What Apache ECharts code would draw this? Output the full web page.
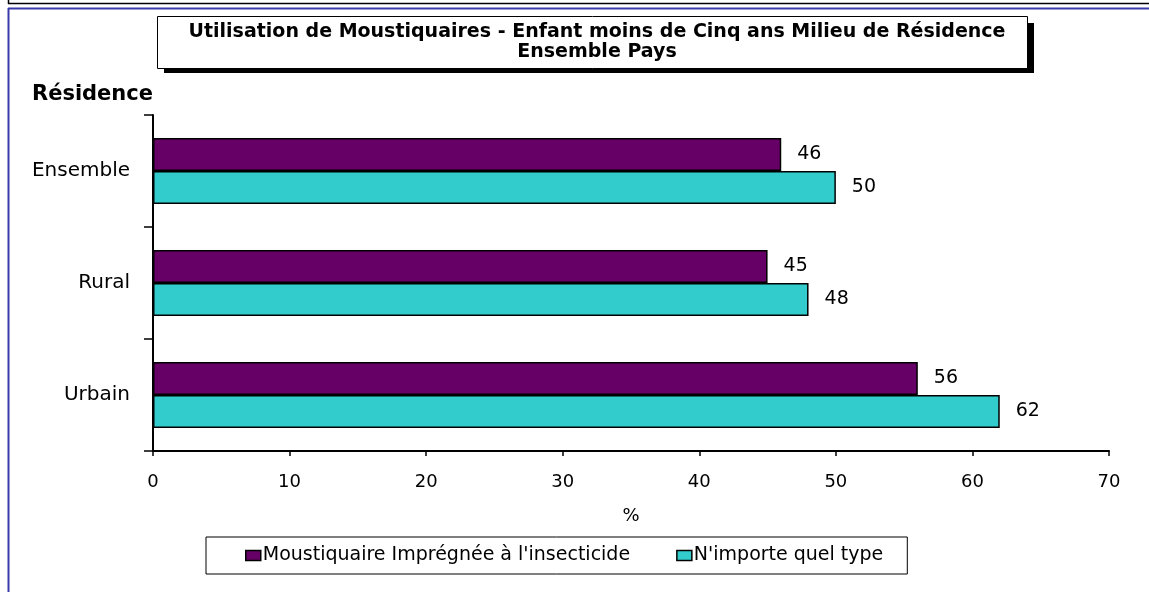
<!DOCTYPE html>
<html>
<head>
<meta charset="utf-8">
<script src="https://cdn.jsdelivr.net/npm/echarts@6/dist/echarts.min.js"></script>
<style>
  html, body { margin: 0; padding: 0; background: #fff; }
  #chart { width: 1149px; height: 592px; }
</style>
</head>
<body>
<div id="chart"></div>
<script>
const categories = ['Ensemble', 'Rural', 'Urbain']
const seriesNames = ["Moustiquaire Imprégnée à l'insecticide", "N'importe quel type"]
const impregnee = [46, 45, 56]
const nimporte = [50, 48, 62]
const xTicks = [0, 70, 10] // min, max, interval

const font = '"DejaVu Sans", Arial, sans-serif'

const chart = echarts.init(document.getElementById('chart'))

const barLabel = {
  show: true,
  position: 'right',
  distance: 16,
  color: '#000',
  fontSize: 19,
  fontFamily: font
}

const option = {
  animation: false,
  backgroundColor: '#fff',
  title: {
    text: 'Utilisation de Moustiquaires - Enfant moins de Cinq ans Milieu de Résidence\nEnsemble Pays',
    left: 592,
    top: 17,
    textAlign: 'center',
    textStyle: {
      fontFamily: font,
      fontSize: 19,
      fontWeight: 'bold',
      color: '#000',
      lineHeight: 20
    }
  },
  graphic: [
    // cadre
    { type: 'line', shape: { x1: 8, y1: 3.5, x2: 1149, y2: 3.5 }, style: { stroke: '#000', lineWidth: 1.5 } },
    { type: 'line', shape: { x1: 8.5, y1: 0, x2: 8.5, y2: 4 }, style: { stroke: '#000', lineWidth: 1.5 } },
    { type: 'line', shape: { x1: 8, y1: 8.5, x2: 1149, y2: 8.5 }, style: { stroke: '#3a3aaa', lineWidth: 2 } },
    { type: 'line', shape: { x1: 8.5, y1: 8, x2: 8.5, y2: 592 }, style: { stroke: '#3a3aaa', lineWidth: 2 } },
    // boite du titre avec ombre
    { type: 'rect', z: -1, shape: { x: 164, y: 23, width: 870, height: 50 }, style: { fill: '#000' } },
    { type: 'rect', z: -1, shape: { x: 157.5, y: 16.5, width: 870, height: 52 }, style: { fill: '#fff', stroke: '#000', lineWidth: 1 } }
  ],
  legend: {
    data: seriesNames,
    left: 206,
    top: 537,
    padding: [9, 24, 9, 39],
    itemGap: 46,
    itemWidth: 15,
    itemHeight: 10,
    icon: 'rect',
    itemStyle: { borderColor: '#000', borderWidth: 1.5 },
    borderColor: '#000',
    borderWidth: 1,
    textStyle: { fontFamily: font, fontSize: 19, color: '#000', padding: [0, 0, 0, -3] }
  },
  grid: {
    left: 153,
    right: 40,
    top: 115,
    bottom: 141,
    containLabel: false
  },
  xAxis: {
    type: 'value',
    min: xTicks[0],
    max: xTicks[1],
    interval: xTicks[2],
    name: '%',
    nameLocation: 'middle',
    nameGap: 56,
    nameTextStyle: { fontFamily: font, fontSize: 18, color: '#000' },
    axisLine: { show: true, lineStyle: { color: '#000', width: 2 } },
    axisTick: { show: true, length: 5, lineStyle: { color: '#000', width: 1.5 } },
    axisLabel: { margin: 22, fontFamily: font, fontSize: 18, color: '#000' },
    splitLine: { show: false }
  },
  yAxis: {
    type: 'category',
    data: categories,
    inverse: true,
    name: 'Résidence',
    nameLocation: 'start',
    nameGap: 20,
    nameTextStyle: {
      fontFamily: font,
      fontSize: 21,
      fontWeight: 'bold',
      color: '#000',
      align: 'right',
      verticalAlign: 'middle'
    },
    axisLine: { show: true, lineStyle: { color: '#000', width: 2 } },
    axisTick: { show: true, length: 9, lineStyle: { color: '#000', width: 1.5 } },
    axisLabel: { margin: 23, fontFamily: font, fontSize: 20, color: '#000' }
  },
  series: [
    {
      name: seriesNames[0],
      type: 'bar',
      data: impregnee,
      barWidth: 33,
      barGap: '0%',
      itemStyle: { color: '#660066', borderColor: '#000', borderWidth: 1.5 },
      label: barLabel
    },
    {
      name: seriesNames[1],
      type: 'bar',
      data: nimporte,
      barWidth: 33,
      barGap: '0%',
      itemStyle: { color: '#33cccc', borderColor: '#000', borderWidth: 1.5 },
      label: barLabel
    }
  ]
}

chart.setOption(option)
</script>
</body>
</html>
